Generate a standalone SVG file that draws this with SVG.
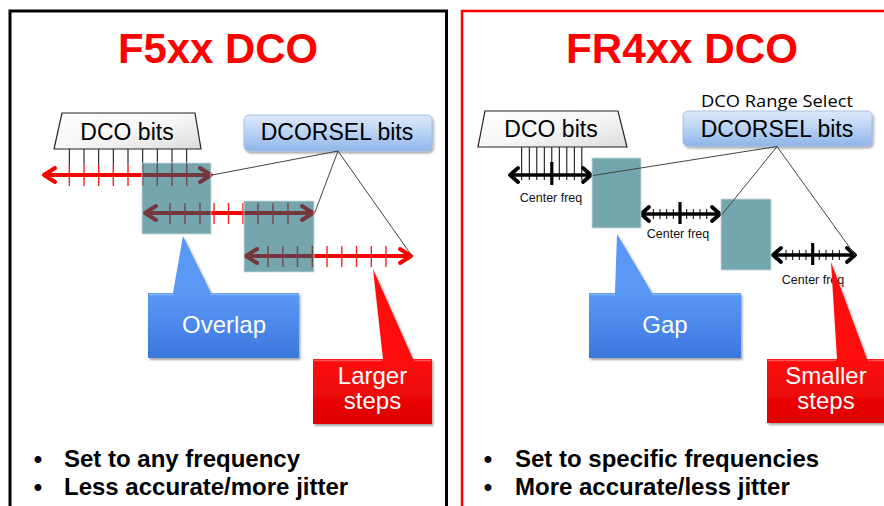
<svg xmlns="http://www.w3.org/2000/svg" width="884" height="506" viewBox="0 0 884 506">
<defs>
<style>
.title{font-family:"Liberation Sans",Arial,sans-serif;font-weight:bold;font-size:43px;fill:#ff0000;text-anchor:middle}
.lbl{font-family:"Liberation Sans",Arial,sans-serif;font-size:23px;fill:#000;text-anchor:middle}
.cl{font-family:"Liberation Sans",Arial,sans-serif;font-size:24px;fill:#fff;text-anchor:middle}
.cf{font-family:"Liberation Sans",Arial,sans-serif;font-size:12.5px;fill:#111;text-anchor:middle}
.bul{font-family:"Liberation Sans",Arial,sans-serif;font-weight:bold;font-size:24px;fill:#000}
.rs{font-family:"Open Sans","Liberation Sans",sans-serif;font-size:16.5px;fill:#000;text-anchor:middle}
.trap{stroke:#222;stroke-width:1.2;fill:url(#gTrap)}
.sel{stroke:#9ab8e0;stroke-width:0.8;fill:url(#gSel);filter:url(#sh)}
.tealT{fill:#0a606c;fill-opacity:0.56;stroke:#c8dadd;stroke-width:0.8}
.teal{fill:#74a6ae;stroke:#c8dadd;stroke-width:0.8}
.ra{stroke:#ff0000;stroke-width:4;fill:none;marker-start:url(#mR);marker-end:url(#mR)}
.ka{stroke:#000;stroke-width:3.5;fill:none;marker-start:url(#mK);marker-end:url(#mK)}
.rt{stroke:#ff2020;stroke-width:1.4}
.bt{stroke:#000;stroke-width:1}
.bigt{stroke:#000;stroke-width:3.2}
.con{stroke:#444;stroke-width:1;fill:none}
.cb{fill:url(#gBlue);filter:url(#sh)}
.cr{fill:url(#gRed);filter:url(#sh)}
.hl{fill:none;stroke-width:1.5;stroke-opacity:0.5}
</style>
<marker id="mR" markerUnits="userSpaceOnUse" viewBox="-15 -15 30 30" markerWidth="30" markerHeight="30" refX="0" refY="0" orient="auto-start-reverse" overflow="visible">
<path d="M-11,-7 L0,0 L-11,7" fill="none" stroke="#ff0000" stroke-width="4" stroke-linecap="round" stroke-linejoin="round"/>
</marker>
<marker id="mK" markerUnits="userSpaceOnUse" viewBox="-15 -15 30 30" markerWidth="30" markerHeight="30" refX="0" refY="0" orient="auto-start-reverse" overflow="visible">
<path d="M-8,-7 L0,0 L-8,7" fill="none" stroke="#000" stroke-width="3.8" stroke-linecap="round" stroke-linejoin="round"/>
</marker>
<linearGradient id="gTrap" x1="0" y1="0" x2="1" y2="1">
<stop offset="0" stop-color="#ffffff"/>
<stop offset="0.5" stop-color="#f7f7f7"/>
<stop offset="1" stop-color="#dcdcdc"/>
</linearGradient>
<linearGradient id="gSel" x1="0" y1="0" x2="0" y2="1">
<stop offset="0" stop-color="#dde9fa"/>
<stop offset="0.5" stop-color="#b9d2f4"/>
<stop offset="1" stop-color="#8fb4ea"/>
</linearGradient>
<linearGradient id="gBlue" gradientUnits="userSpaceOnUse" x1="0" y1="293" x2="0" y2="358">
<stop offset="0" stop-color="#5a98f6"/>
<stop offset="1" stop-color="#3c78de"/>
</linearGradient>
<linearGradient id="gRed" gradientUnits="userSpaceOnUse" x1="0" y1="359" x2="0" y2="424">
<stop offset="0" stop-color="#ff1010"/>
<stop offset="1" stop-color="#dd0000"/>
</linearGradient>
<filter id="sh" x="-10%" y="-10%" width="125%" height="130%">
<feDropShadow dx="1.5" dy="2" stdDeviation="1.2" flood-color="#000" flood-opacity="0.35"/>
</filter>
</defs>
<rect width="884" height="506" fill="#fff"/>

<g id="panel-left">
<rect x="10" y="11" width="436.5" height="520" fill="none" stroke="#000" stroke-width="3"/>
<text class="title" x="218" y="63" textLength="200" lengthAdjust="spacingAndGlyphs">F5xx DCO</text>
</g>
<g id="panel-right">
<rect x="462" y="11" width="440" height="520" fill="none" stroke="#ff0000" stroke-width="2.5"/>
<text class="title" x="682" y="63" textLength="232" lengthAdjust="spacingAndGlyphs">FR4xx DCO</text>
</g>

<!-- LEFT PANEL -->
<g id="left-dco-ticks">
<path class="bt" d="M69.3,149V165M84,149V165M98.7,149V165M113.3,149V165M128,149V165M142.7,149V165M157.3,149V165M172,149V165M186.7,149V165"/>
<path class="rt" d="M69.3,165V186M84,165V186M98.7,165V186M113.3,165V186M128,165V186M142.7,165V186M157.3,165V186M172,165V186M186.7,165V186"/>
</g>
<g id="left-arrow-1">
<line class="ra" x1="44" y1="175" x2="211" y2="175"/>
</g>
<g id="left-arrow-2">
<line class="ra" x1="145" y1="213" x2="313" y2="213"/>
<path class="rt" d="M170,203V224M185,203V224M200,203V224M214,203V224M228.5,203V224M243,203V224M258,203V224M273,203V224M288,203V224"/>
</g>
<g id="left-arrow-3">
<line class="ra" x1="246" y1="256" x2="411" y2="256"/>
<path class="rt" d="M268,246V267M282.8,246V267M297.5,246V267M312.3,246V267M327,246V267M341.8,246V267M356.5,246V267M371.3,246V267M386,246V267"/>
</g>
<g id="left-range-1"><rect class="tealT" x="142" y="163" width="69" height="71"/></g>
<g id="left-range-2"><rect class="tealT" x="244" y="201" width="70" height="71"/></g>
<g id="left-dco-bits">
<path class="trap" d="M62,113H195L201,149H54Z"/>
<text class="lbl" x="127" y="140">DCO bits</text>
</g>
<g id="left-dcorsel">
<rect class="sel" x="244" y="115" width="188" height="36" rx="5"/>
<text class="lbl" x="337" y="140">DCORSEL bits</text>
</g>

<!-- RIGHT PANEL -->
<g id="right-dco-ticks">
<path class="bt" d="M521.7,147V180M529.3,147V180M536.8,147V180M544.3,147V180M551.8,147V180M559.3,147V180M566.8,147V180M574.3,147V180M581.8,147V180"/>
</g>
<g id="right-arrow-1">
<line class="ka" x1="510" y1="175" x2="591" y2="175"/>
<line class="bigt" x1="551.8" y1="162" x2="551.8" y2="185"/>
<text class="cf" x="551" y="201.5">Center freq</text>
</g>
<g id="right-arrow-2">
<line class="ka" x1="641" y1="214" x2="720" y2="214"/>
<path class="bt" d="M653.3,209V219M660,209V219M666.7,209V219M673.3,209V219M686.7,209V219M693.3,209V219M700,209V219M706.7,209V219"/>
<line class="bigt" x1="680" y1="202" x2="680" y2="224"/>
<text class="cf" x="678" y="238">Center freq</text>
</g>
<g id="right-arrow-3">
<line class="ka" x1="773" y1="255" x2="855" y2="255"/>
<path class="bt" d="M786,250V260M792.7,250V260M799.3,250V260M806,250V260M819.3,250V260M826,250V260M832.7,250V260M839.3,250V260"/>
<line class="bigt" x1="812.7" y1="243" x2="812.7" y2="265"/>
<text class="cf" x="813" y="283.5">Center freq</text>
</g>
<g id="right-range-1"><rect class="teal" x="592" y="158" width="49" height="70"/></g>
<g id="right-range-2"><rect class="teal" x="721" y="199" width="50" height="71"/></g>
<g id="right-dco-bits">
<path class="trap" d="M485,111H618L627,147H478Z"/>
<text class="lbl" x="551" y="137">DCO bits</text>
</g>
<g id="right-dcorsel">
<text class="rs" x="777" y="106.5" textLength="152" lengthAdjust="spacingAndGlyphs">DCO Range Select</text>
<rect class="sel" x="683" y="111" width="189" height="35" rx="5"/>
<text class="lbl" x="777" y="137">DCORSEL bits</text>
</g>

<g id="connectors">
<line class="con" x1="338" y1="151" x2="212" y2="175"/>
<line class="con" x1="338" y1="151" x2="315" y2="212"/>
<line class="con" x1="338" y1="151" x2="412" y2="256"/>
<line class="con" x1="777" y1="146.5" x2="593" y2="175.5"/>
<line class="con" x1="777" y1="146.5" x2="722" y2="214.5"/>
<line class="con" x1="777" y1="146.5" x2="855" y2="255"/>
</g>

<g id="callout-overlap">
<path class="cb" d="M148,293H173L183,236L211,293H299V358H148Z"/>
<path class="hl" stroke="#a9cdfc" d="M149,294.5H174M210,294.5H298"/>
<text class="cl" x="224" y="333">Overlap</text>
</g>
<g id="callout-larger">
<path class="cr" d="M313,359H383L373,269L413,359H432V424H313Z"/>
<path class="hl" stroke="#ff9a9a" d="M314,360.5H382M414,360.5H431"/>
<text class="cl" x="372.5" y="384">Larger</text>
<text class="cl" x="372.5" y="409">steps</text>
</g>
<g id="callout-gap">
<path class="cb" d="M589,293H615L617,234L652,293H741V358H589Z"/>
<path class="hl" stroke="#a9cdfc" d="M590,294.5H615M652,294.5H740"/>
<text class="cl" x="665" y="333">Gap</text>
</g>
<g id="callout-smaller">
<path class="cr" d="M767,359H837L831,262L867,359H892V423H767Z"/>
<path class="hl" stroke="#ff9a9a" d="M768,360.5H836M868,360.5H884"/>
<text class="cl" x="826" y="384">Smaller</text>
<text class="cl" x="826" y="409">steps</text>
</g>

<g id="bullets-left">
<text class="bul" x="38" y="466.5" text-anchor="middle">•</text>
<text class="bul" x="64" y="466.5">Set to any frequency</text>
<text class="bul" x="38" y="495" text-anchor="middle">•</text>
<text class="bul" x="64" y="495">Less accurate/more jitter</text>
</g>
<g id="bullets-right">
<text class="bul" x="488" y="466.5" text-anchor="middle">•</text>
<text class="bul" x="515" y="466.5">Set to specific frequencies</text>
<text class="bul" x="488" y="495" text-anchor="middle">•</text>
<text class="bul" x="515" y="495">More accurate/less jitter</text>
</g>
</svg>
